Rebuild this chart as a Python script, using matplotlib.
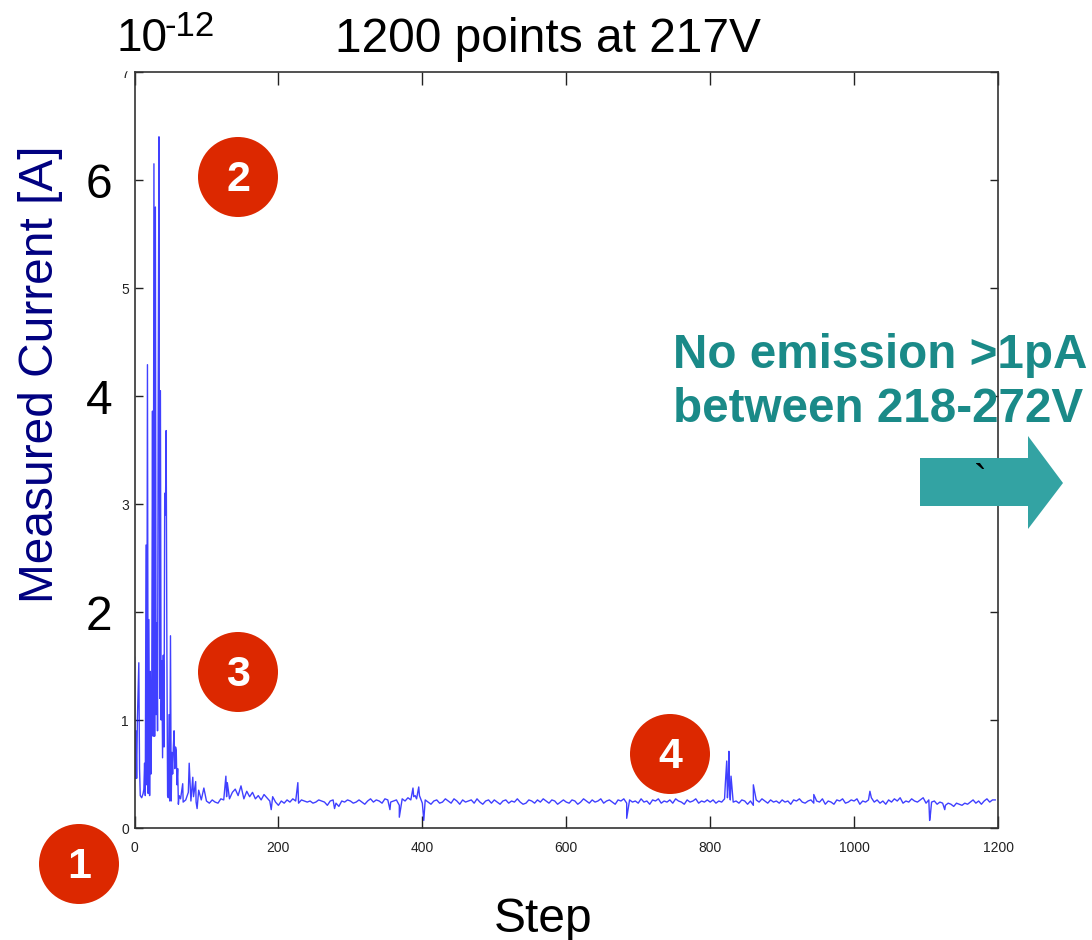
import numpy as np
import matplotlib
matplotlib.use("Agg")
import matplotlib.pyplot as plt
from matplotlib.patches import Circle, Polygon, Rectangle

# steps 0..62, one value per step (units of 1e-12 A)
early_current = [1.58, 0.46, 0.9, 0.46, 1.0, 1.25, 1.53, 0.55, 0.3, 0.29, 0.28, 0.3, 0.32, 0.36, 0.6, 0.3,
                 2.62, 0.4, 4.29, 0.32, 1.93, 0.3, 1.45, 0.5, 1.3, 3.86, 0.85, 6.15, 0.85, 5.75, 1.05, 1.9,
                 0.9, 4.08, 6.4, 1.2, 4.05, 1.0, 1.55, 0.65, 1.6, 0.75, 3.1, 2.9, 3.68, 1.65, 0.3, 0.28,
                 1.05, 0.25, 1.78, 0.25, 0.7, 0.5, 0.75, 0.9, 0.55, 0.75, 0.72, 0.4, 0.55, 0.22, 0.3]

# the long flat part
block_060 = [0.27, 0.24, 0.26, 0.33, 0.25, 0.29, 0.24, 0.35, 0.26, 0.37]
block_100 = [0.25, 0.23, 0.26, 0.24, 0.23, 0.27, 0.26, 0.29, 0.27, 0.33, 0.36, 0.3, 0.39, 0.27, 0.34, 0.29,
             0.33, 0.27, 0.3, 0.26, 0.31, 0.28, 0.25, 0.29, 0.24]
block_200 = [0.21, 0.25, 0.23, 0.26, 0.24, 0.27, 0.25, 0.23, 0.26, 0.25, 0.24, 0.25, 0.23, 0.24, 0.26, 0.25,
             0.24, 0.21, 0.25, 0.26, 0.23, 0.2, 0.25, 0.24, 0.26]
block_300 = [0.25, 0.23, 0.24, 0.26, 0.24, 0.22, 0.25, 0.27, 0.24, 0.26, 0.25, 0.23, 0.27, 0.26, 0.24, 0.25,
             0.26, 0.21, 0.27, 0.25, 0.28, 0.26, 0.29, 0.27, 0.3]
block_400 = [0.23, 0.26, 0.24, 0.22, 0.25, 0.26, 0.23, 0.24, 0.27, 0.25, 0.23, 0.27, 0.25, 0.22, 0.26, 0.24,
             0.25, 0.26, 0.23, 0.27, 0.24, 0.22, 0.25, 0.26, 0.23]
block_500 = [0.26, 0.24, 0.22, 0.25, 0.26, 0.23, 0.25, 0.24, 0.27, 0.24, 0.22, 0.23, 0.26, 0.25, 0.23, 0.26,
             0.24, 0.27, 0.25, 0.23, 0.26, 0.25, 0.22, 0.24, 0.26]
block_600 = [0.24, 0.23, 0.26, 0.25, 0.22, 0.24, 0.27, 0.25, 0.23, 0.26, 0.24, 0.25, 0.27, 0.23, 0.25, 0.26,
             0.24, 0.22, 0.26, 0.25, 0.27, 0.23, 0.26, 0.24, 0.25]
block_700 = [0.23, 0.27, 0.24, 0.25, 0.22, 0.26, 0.25, 0.27, 0.23, 0.25, 0.24, 0.26, 0.23, 0.27, 0.25, 0.24,
             0.22, 0.26, 0.24, 0.25, 0.27, 0.23, 0.25, 0.24, 0.26]
block_800 = [0.24, 0.26, 0.23, 0.25, 0.24, 0.27, 0.28, 0.26, 0.24, 0.25, 0.23, 0.26, 0.25, 0.22, 0.25, 0.21,
             0.26, 0.24, 0.27, 0.25, 0.23, 0.26, 0.24, 0.25, 0.23]
block_900 = [0.26, 0.24, 0.25, 0.22, 0.26, 0.25, 0.27, 0.24, 0.23, 0.25, 0.26, 0.23, 0.25, 0.24, 0.27, 0.22,
             0.25, 0.24, 0.22, 0.26, 0.25, 0.27, 0.23, 0.24, 0.26]
block_1000 = [0.25, 0.27, 0.22, 0.25, 0.24, 0.26, 0.28, 0.24, 0.26, 0.23, 0.25, 0.22, 0.26, 0.24, 0.27, 0.25,
              0.28, 0.23, 0.25, 0.24, 0.27, 0.25, 0.24, 0.26, 0.28]
block_1100 = [0.23, 0.26, 0.24, 0.25, 0.22, 0.24, 0.23, 0.21, 0.23, 0.22, 0.2, 0.23, 0.22, 0.21, 0.23, 0.22,
              0.24, 0.26, 0.23, 0.25, 0.22, 0.25, 0.27, 0.24, 0.26, 0.26]

# single spikes and dips that sit between the values above
spike_steps = [67, 76, 81, 85, 87, 127, 129, 190, 227, 278, 355, 368, 387, 390, 395, 402, 684,
               821, 823, 825, 826, 827, 829, 860, 944, 1022, 1105, 1106, 1126]
spike_current = [0.41, 0.6, 0.47, 0.43, 0.18, 0.48, 0.42, 0.17, 0.42, 0.18, 0.17, 0.1, 0.37, 0.3, 0.38, 0.07,
                 0.09, 0.4, 0.62, 0.4, 0.71, 0.35, 0.48, 0.4, 0.31, 0.34, 0.07, 0.12, 0.17]

x_ticks = [0, 200, 400, 600, 800, 1000, 1200]
y_ticks = [0, 1, 2, 3, 4, 5, 6, 7]


def block_steps(start, stop, values):
    return [start + i * (stop - start) / len(values) for i in range(len(values))]


steps = list(range(len(early_current)))
current = list(early_current)
blocks = [(64, 100, block_060), (100, 200, block_100), (200, 300, block_200), (300, 400, block_300),
          (400, 500, block_400), (500, 600, block_500), (600, 700, block_600), (700, 800, block_700),
          (800, 900, block_800), (900, 1000, block_900), (1000, 1100, block_1000), (1100, 1200, block_1100)]
for b in blocks:
    steps += block_steps(b[0], b[1], b[2])
    current += b[2]
steps += spike_steps
current += spike_current
order = np.argsort(steps, kind="stable")
steps = np.array(steps, dtype=float)[order]
current = np.array(current)[order]

W = 1092
H = 940
plt.rcParams['font.family'] = ['Liberation Sans', 'DejaVu Sans']
fig = plt.figure(figsize=(W / 100, H / 100), dpi=100)

ax = fig.add_axes([134.5 / W, 1 - 828 / H, (998 - 134.5) / W, (828 - 72) / H])
ax.plot(steps, current, color="#1010ff", lw=1.0, alpha=0.8)
ax.set_xlim(0, 1200)
ax.set_ylim(0, 7)
ax.set_xticks(x_ticks)
ax.set_yticks(y_ticks)
ax.tick_params(axis='x', direction='in', length=9, width=1, top=True, labelsize=10, pad=9, colors="#222222")
ax.tick_params(axis='y', direction='in', length=6, width=1, right=True, labelsize=10, pad=4, colors="#222222")
for tick, val in zip(ax.yaxis.get_major_ticks(), y_ticks):
    if val in (2, 4, 6):
        tick.label1.set_fontsize(34.5)
        tick.label1.set_color("black")
        tick.set_pad(16)
for s in ax.spines.values():
    s.set_linewidth(1.2)
    s.set_color("#333333")

# overlay in pixel coordinates for the slide annotations
ov = fig.add_axes([0, 0, 1, 1])
ov.set_xlim(0, W)
ov.set_ylim(H, 0)
ov.axis("off")
ov.patch.set_alpha(0)

ov.add_patch(Rectangle((112, 55), 21, 15, color="white", zorder=1))

ov.text(116, 39, "10", fontsize=33, ha="left", va="center")
ov.text(165, 27, "-12", fontsize=25, ha="left", va="center")
ov.text(548, 39, "1200 points at 217V", fontsize=34.5, ha="center", va="center")
ov.text(41, 374, "Measured Current [A]", fontsize=34.5, color="#000080", rotation=90, ha="center", va="center")
ov.text(543, 919, "Step", fontsize=34.5, ha="center", va="center")

ov.text(673, 356, "No emission >1pA", fontsize=34.3, fontweight="bold", color="#1a8a88", ha="left", va="center", zorder=5)
ov.text(673, 410, "between 218-272V", fontsize=34.3, fontweight="bold", color="#1a8a88", ha="left", va="center", zorder=5)

ov.add_patch(Polygon([(920, 458), (1028, 458), (1028, 436), (1063, 483), (1028, 529), (1028, 506), (920, 506)],
                     closed=True, facecolor="#33a3a3", edgecolor="none", zorder=3))
ov.text(981, 482, "`", fontsize=28, color="black", ha="center", va="center", zorder=4)

for num, cx, cy in [("1", 79, 864), ("2", 238, 177), ("3", 238, 672), ("4", 670, 754)]:
    ov.add_patch(Circle((cx, cy), 40, facecolor="#dc2800", edgecolor="none", zorder=6))
    ov.text(cx, cy + 3, num, fontsize=31, fontweight="bold", color="white", ha="center", va="center", zorder=7)

fig.savefig("out.png", dpi=100)
